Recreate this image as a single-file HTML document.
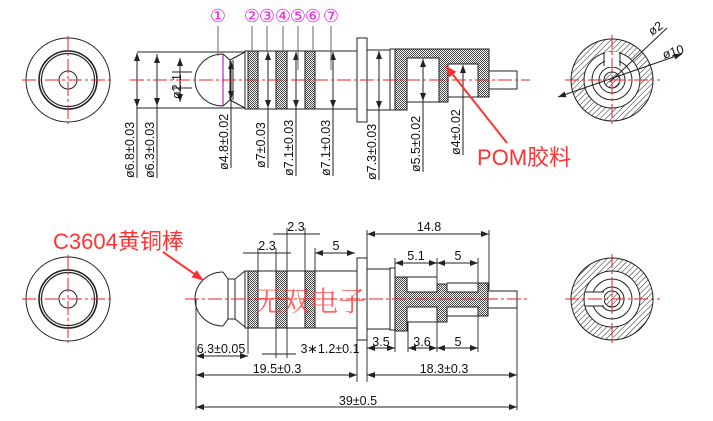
<!DOCTYPE html>
<html><head><meta charset="utf-8"><style>
html,body{margin:0;padding:0;background:#fff;width:713px;height:421px;overflow:hidden}
svg{display:block}
text{font-family:"Liberation Sans","DejaVu Sans",sans-serif}
</style></head><body>
<svg width="713" height="421" viewBox="0 0 713 421" xmlns="http://www.w3.org/2000/svg">
<defs>
<pattern id="ch" width="2" height="2" patternUnits="userSpaceOnUse">
<rect width="2" height="2" fill="#fff"/><rect width="1" height="1" fill="#444"/><rect x="1" y="1" width="1" height="1" fill="#444"/>
</pattern>
<pattern id="dg" width="4" height="4" patternUnits="userSpaceOnUse" patternTransform="rotate(45)">
<rect width="4" height="4" fill="#fff"/><line x1="0" y1="0" x2="0" y2="4" stroke="#222" stroke-width="1"/>
</pattern>
<marker id="ar" markerWidth="8" markerHeight="6" refX="8" refY="3" orient="auto-start-reverse" markerUnits="userSpaceOnUse"><path d="M0,0 L8,3 L0,6 z" fill="#222"/></marker>
<marker id="rar" markerWidth="12" markerHeight="9" refX="11" refY="4.5" orient="auto" markerUnits="userSpaceOnUse"><path d="M0,0 L12,4.5 L0,9 z" fill="#f33"/></marker>
</defs>
<g fill="none" stroke="#222" stroke-width="1">

<circle cx="68" cy="80" r="42"/>
<circle cx="68" cy="80" r="29" stroke-width="1.6"/>
<circle cx="68" cy="80" r="26.5" stroke-width="1.2"/>
<circle cx="68" cy="80" r="9"/>
<circle cx="68" cy="299" r="42"/>
<circle cx="68" cy="299" r="29" stroke-width="1.6"/>
<circle cx="68" cy="299" r="26.5" stroke-width="1.2"/>
<circle cx="68" cy="299" r="9"/>

<line x1="137" y1="52" x2="245" y2="52"/><line x1="137" y1="108" x2="245" y2="108"/>
<line x1="157" y1="54" x2="157" y2="107"/>
<path d="M223,54 A28,26 0 0 0 223,106"/>
<line x1="223" y1="54" x2="223" y2="106" stroke="#a0a"/>
<path d="M223,54 L230,60 L230,100 L223,106 M233,60 L233,100 M230,60 L245,52 M230,100 L245,108"/>
<rect x="245" y="51" width="112" height="58"/>
<rect x="248" y="51" width="10" height="58" fill="url(#ch)"/>
<rect x="276" y="51" width="11" height="58" fill="url(#ch)"/>
<rect x="305" y="51" width="10" height="58" fill="url(#ch)"/>
<line x1="172" y1="72" x2="192" y2="72"/><line x1="172" y1="88" x2="192" y2="88"/>
<rect x="357" y="38" width="10" height="84"/>
<rect x="367" y="50" width="23" height="60"/>
<rect x="390" y="49" width="5" height="61"/>
<path d="M395,49 H489 V97 H478 V64 H448 V102 H439 V58 H407 V110 H395 Z" fill="url(#ch)"/>
<line x1="407" y1="102" x2="439" y2="102"/><line x1="448" y1="97" x2="478" y2="97"/>
<rect x="489" y="71" width="28" height="18"/>
<g marker-start="url(#ar)" marker-end="url(#ar)">
<line x1="137" y1="53" x2="137" y2="107"/>
<line x1="157" y1="55" x2="157" y2="106"/>
<line x1="180" y1="58" x2="180" y2="102"/>
<line x1="231" y1="61" x2="231" y2="99"/>
<line x1="268" y1="52" x2="268" y2="108"/>
<line x1="296" y1="52" x2="296" y2="108"/>
<line x1="333" y1="52" x2="333" y2="108"/>
<line x1="379" y1="51" x2="379" y2="109"/>
<line x1="423" y1="59" x2="423" y2="101"/>
</g>
<line x1="463" y1="65" x2="463" y2="155" marker-start="url(#ar)"/>
<line x1="137" y1="107" x2="137" y2="178"/><line x1="157" y1="106" x2="157" y2="178"/>
<line x1="231" y1="99" x2="231" y2="168"/><line x1="268" y1="108" x2="268" y2="168"/>
<line x1="296" y1="108" x2="296" y2="176"/><line x1="333" y1="108" x2="333" y2="176"/>
<line x1="379" y1="109" x2="379" y2="180"/><line x1="423" y1="101" x2="423" y2="172"/>
<g stroke="#666">
<line x1="218" y1="26" x2="218" y2="56"/><line x1="252" y1="26" x2="252" y2="52"/>
<line x1="267" y1="26" x2="267" y2="52"/><line x1="283" y1="26" x2="283" y2="52"/>
<line x1="298" y1="26" x2="298" y2="70"/><line x1="313" y1="26" x2="313" y2="52"/>
<line x1="331" y1="26" x2="331" y2="70"/>
</g>
<line x1="130" y1="80" x2="530" y2="80" stroke="#e22" stroke-dasharray="14,3,3,3"/>
<line x1="22" y1="80" x2="112" y2="80" stroke="#e22" stroke-dasharray="14,3,3,3"/>
<line x1="68" y1="36" x2="68" y2="124" stroke="#e22" stroke-dasharray="14,3,3,3"/>

<circle cx="612" cy="80" r="41" fill="url(#dg)"/>
<circle cx="612" cy="80" r="28" fill="#fff"/>
<circle cx="612" cy="80" r="20"/>
<circle cx="612" cy="80" r="13"/>
<circle cx="612" cy="80" r="8" fill="url(#dg)"/>
<rect x="605" y="52" width="14" height="15" fill="#fff" stroke="none"/>
<path d="M604,52 V66 M620,52 V66"/>
<line x1="610" y1="82" x2="667" y2="28"/>
<line x1="558" y1="97" x2="682" y2="54" marker-start="url(#ar)" marker-end="url(#ar)"/>
<line x1="565" y1="80" x2="660" y2="80" stroke="#e22" stroke-dasharray="14,3,3,3"/>
<line x1="612" y1="35" x2="612" y2="125" stroke="#e22" stroke-dasharray="14,3,3,3"/>

<path d="M223,272 A28,27 0 0 0 223,326"/>
<path d="M223,272 L228,279 L228,319 L223,326 M235,279 V319 M228,279 H235 M228,319 H235 M235,279 L245,271 M235,319 L245,327"/>
<rect x="245" y="271" width="112" height="57"/>
<rect x="248" y="271" width="10" height="57" fill="url(#ch)"/>
<rect x="276" y="271" width="11" height="57" fill="url(#ch)"/>
<rect x="305" y="271" width="10" height="57" fill="url(#ch)"/>
<rect x="357" y="258" width="10" height="82"/>
<rect x="367" y="269" width="23" height="60"/>
<rect x="390" y="268" width="5" height="62"/>
<path d="M395,277 H407 V292 H437 V284 H447 V292 H478 V283 H488 V316 H478 V307 H447 V322 H437 V307 H407 V331 H395 Z" fill="url(#ch)"/>
<line x1="407" y1="277" x2="437" y2="277"/><line x1="447" y1="283" x2="478" y2="283"/>
<line x1="447" y1="316" x2="478" y2="316"/><line x1="407" y1="322" x2="437" y2="322"/>
<rect x="488" y="291" width="29" height="17"/>
<line x1="185" y1="299" x2="530" y2="299" stroke="#e22" stroke-dasharray="14,3,3,3"/>
<line x1="22" y1="299" x2="112" y2="299" stroke="#e22" stroke-dasharray="14,3,3,3"/>
<line x1="68" y1="255" x2="68" y2="343" stroke="#e22" stroke-dasharray="14,3,3,3"/>
<g stroke-width="0.9">
<line x1="196" y1="299" x2="196" y2="410"/>
<line x1="517" y1="300" x2="517" y2="410"/>
<line x1="357" y1="340" x2="357" y2="382"/>
<line x1="367" y1="340" x2="367" y2="382"/>
<line x1="248" y1="328" x2="248" y2="354"/>
<line x1="276" y1="328" x2="276" y2="358"/><line x1="287" y1="328" x2="287" y2="358"/>
<line x1="395" y1="331" x2="395" y2="352"/><line x1="408" y1="322" x2="408" y2="352"/>
<line x1="437" y1="322" x2="437" y2="352"/><line x1="478" y1="316" x2="478" y2="352"/>
<line x1="258" y1="248" x2="258" y2="271"/><line x1="276" y1="248" x2="276" y2="271"/>
<line x1="287" y1="228" x2="287" y2="271"/><line x1="305" y1="228" x2="305" y2="271"/>
<line x1="315" y1="248" x2="315" y2="271"/>
<line x1="367" y1="230" x2="367" y2="258"/><line x1="489" y1="230" x2="489" y2="290"/>
<line x1="395" y1="258" x2="395" y2="277"/><line x1="437" y1="258" x2="437" y2="284"/>
<line x1="478" y1="258" x2="478" y2="283"/>
</g>
<g marker-start="url(#ar)" marker-end="url(#ar)" stroke-width="0.9">
<line x1="196" y1="356" x2="248" y2="356"/>
<line x1="196" y1="375" x2="357" y2="375"/>
<line x1="367" y1="375" x2="517" y2="375"/>
<line x1="196" y1="407" x2="517" y2="407"/>
<line x1="367" y1="348" x2="395" y2="348"/>
<line x1="408" y1="348" x2="437" y2="348"/>
<line x1="437" y1="348" x2="478" y2="348"/>
<line x1="367" y1="234" x2="489" y2="234"/>
<line x1="395" y1="263" x2="437" y2="263"/>
<line x1="437" y1="263" x2="478" y2="263"/>
<line x1="315" y1="253" x2="355" y2="253"/>
</g>
<g stroke-width="0.9">
<line x1="243" y1="253" x2="291" y2="253"/>
<line x1="273" y1="234" x2="320" y2="234"/>
<line x1="262" y1="354" x2="296" y2="354"/>
</g>

<circle cx="612" cy="299" r="41" fill="url(#dg)"/>
<circle cx="612" cy="299" r="28" fill="#fff"/>
<circle cx="612" cy="299" r="20"/>
<circle cx="612" cy="299" r="12"/>
<circle cx="612" cy="299" r="8" fill="url(#dg)"/>
<rect x="585" y="292" width="19" height="14" fill="#fff" stroke="none"/>
<path d="M585,292 H604 M585,306 H604"/>
<line x1="565" y1="299" x2="660" y2="299" stroke="#e22" stroke-dasharray="14,3,3,3"/>
<line x1="612" y1="254" x2="612" y2="344" stroke="#e22" stroke-dasharray="14,3,3,3"/>

<line x1="507" y1="143" x2="446" y2="66" stroke="#f33" stroke-width="2" marker-end="url(#rar)"/>
<line x1="163" y1="252" x2="203" y2="280" stroke="#f33" stroke-width="2" marker-end="url(#rar)"/>
</g>

<g font-size="18" text-anchor="middle" style="fill:#e2e;font-family:'DejaVu Sans','Noto Sans CJK SC',sans-serif">
<text x="218" y="22">①</text>
<text x="252" y="22">②</text>
<text x="267" y="22">③</text>
<text x="283" y="22">④</text>
<text x="298" y="22">⑤</text>
<text x="313" y="22">⑥</text>
<text x="331" y="22">⑦</text>
</g>

<g font-size="12.5" style="fill:#111">
<text transform="translate(134,178) rotate(-90)">ø6.8±0.03</text>
<text transform="translate(154,178) rotate(-90)">ø6.3±0.03</text>
<text transform="translate(181,99) rotate(-90)">ø2.1</text>
<text transform="translate(228,170) rotate(-90)">ø4.8±0.02</text>
<text transform="translate(265,168) rotate(-90)">ø7±0.03</text>
<text transform="translate(293,176) rotate(-90)">ø7.1±0.03</text>
<text transform="translate(330,176) rotate(-90)">ø7.1±0.03</text>
<text transform="translate(376,180) rotate(-90)">ø7.3±0.03</text>
<text transform="translate(420,172) rotate(-90)">ø5.5±0.02</text>
<text transform="translate(460,155) rotate(-90)">ø4±0.02</text>
<text transform="translate(652,36) rotate(-35)">ø2</text>
<text transform="translate(664,59) rotate(-17)">ø10</text>
</g>

<g font-size="12.5" text-anchor="middle" style="fill:#111">
<text x="267" y="250">2.3</text>
<text x="296" y="231">2.3</text>
<text x="336" y="250">5</text>
<text x="429" y="231">14.8</text>
<text x="416" y="260">5.1</text>
<text x="458" y="260">5</text>
<text x="221" y="353">6.3±0.05</text>
<text x="330" y="353">3∗1.2±0.1</text>
<text x="381" y="346">3.5</text>
<text x="422" y="346">3.6</text>
<text x="458" y="346">5</text>
<text x="277" y="373">19.5±0.3</text>
<text x="444" y="373">18.3±0.3</text>
<text x="358" y="405">39±0.5</text>
</g>

<text x="477" y="165" font-size="22" style="fill:#f33;font-family:'Liberation Sans','Noto Sans CJK SC',sans-serif">POM胶料</text>
<text x="53" y="249" font-size="22" style="fill:#f33;font-family:'Liberation Sans','Noto Sans CJK SC',sans-serif">C3604黄铜棒</text>
<text x="254" y="311" font-size="28" style="fill:#f33;fill-opacity:0.75;font-family:'Noto Serif CJK SC','Noto Sans CJK SC',serif">无双电子</text>
</svg>
</body></html>
